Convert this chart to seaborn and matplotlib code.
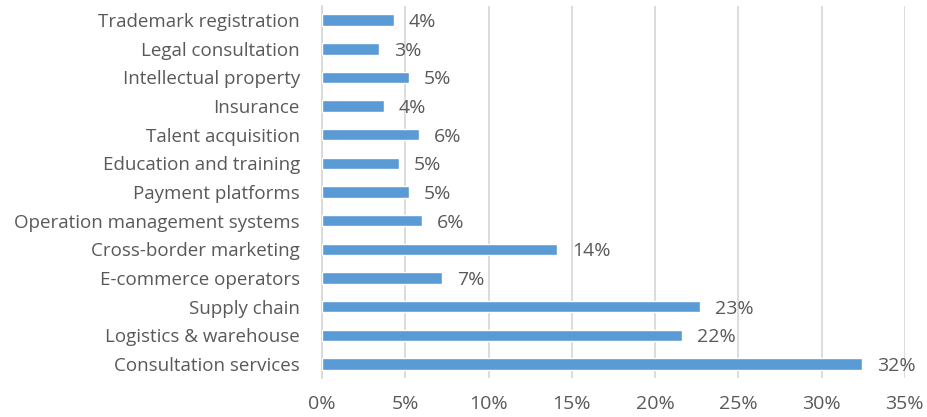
import matplotlib
matplotlib.use("Agg")
import matplotlib.pyplot as plt
import seaborn as sns
import pandas as pd
from matplotlib.ticker import PercentFormatter

# Service categories (top to bottom) and their shares in percent
categories = [
    "Trademark registration",
    "Legal consultation",
    "Intellectual property",
    "Insurance",
    "Talent acquisition",
    "Education and training",
    "Payment platforms",
    "Operation management systems",
    "Cross-border marketing",
    "E-commerce operators",
    "Supply chain",
    "Logistics & warehouse",
    "Consultation services",
]
shares = [4.3, 3.4, 5.2, 3.7, 5.8, 4.6, 5.2, 6.0, 14.1, 7.2, 22.7, 21.6, 32.4]
x_ticks = [0, 5, 10, 15, 20, 25, 30, 35]

df = pd.DataFrame({"service": categories, "share": shares})

sns.set_theme(style="white")
plt.rcParams["font.family"] = ["Open Sans", "DejaVu Sans"]

text_color = "#595959"
bar_color = "#5B9BD5"
grid_color = "#D9D9D9"

fig = plt.figure(figsize=(9.28, 4.17), dpi=100)
ax = fig.add_axes([0.347, 0.093, 0.628, 0.893])

sns.barplot(data=df, x="share", y="service", orient="h", color=bar_color,
            width=0.4, saturation=1, ax=ax, zorder=3)

# Percentage labels to the right of each bar
for c in ax.containers:
    labels = ax.bar_label(c, labels=[f"{v:.0f}%" for v in shares], padding=11,
                          fontsize=14, color=text_color)
    for t in labels:
        t.set_va("center_baseline")

ax.set_xlim(0, 35)
ax.set_xticks(x_ticks)
ax.xaxis.set_major_formatter(PercentFormatter(decimals=0))
ax.set_xlabel("")
ax.set_ylabel("")
ax.grid(axis="x", color=grid_color, linewidth=1.3, zorder=0)
ax.grid(axis="y", visible=False)
for s in ["top", "right", "bottom"]:
    ax.spines[s].set_visible(False)
ax.spines["left"].set_color(grid_color)
ax.spines["left"].set_linewidth(1.3)
ax.tick_params(axis="x", length=0, pad=12, labelsize=14, labelcolor=text_color)
ax.tick_params(axis="y", length=0, pad=16, labelsize=13.5, labelcolor=text_color)

fig.savefig("out.png", dpi=100)
